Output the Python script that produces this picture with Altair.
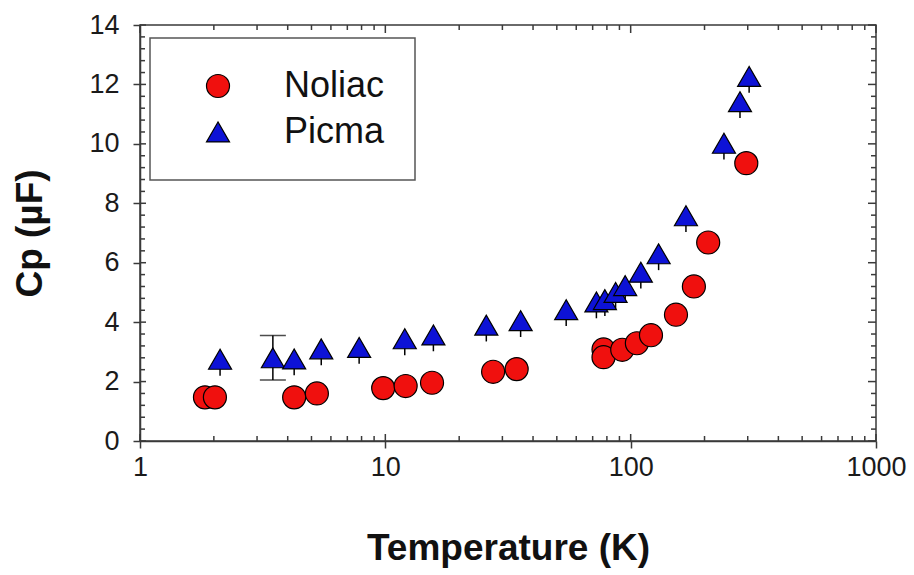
import altair as alt
import pandas as pd

# ---- data ----
series = ["Noliac", "Picma"]
series_colors = ["#f0100e", "#0d12d6"]
series_shapes = ["circle", "triangle-up"]

noliac_T = [1.84, 2.02, 4.25, 5.26, 9.8, 12.1, 15.5, 27.5, 34.3, 77.5, 77.5, 92.4, 106, 121, 153, 181, 207, 296]
noliac_cp = [1.47, 1.47, 1.47, 1.6, 1.78, 1.85, 1.96, 2.33, 2.42, 3.08, 2.82, 3.07, 3.29, 3.56, 4.25, 5.2, 6.68, 9.35]

picma_T = [2.12, 3.48, 4.25, 5.48, 7.82, 12.0, 15.7, 25.8, 35.6, 54.6, 72.5, 78.5, 86.8, 95, 110, 130, 168, 240, 279, 304]
picma_cp = [2.75, 2.8, 2.76, 3.1, 3.15, 3.44, 3.57, 3.9, 4.05, 4.42, 4.68, 4.76, 5.0, 5.23, 5.68, 6.3, 7.58, 10.02, 11.42, 12.27]
# error bar extents below / above each Picma point
picma_err_lo = [0.55, 0.75, 0.55, 0.55, 0.55, 0.55, 0.55, 0.55, 0.55, 0.55, 0.55, 0.55, 0.55, 0.55, 0.55, 0.55, 0.55, 0.55, 0.55, 0.55]
picma_err_hi = [0.3, 0.75, 0.3, 0.3, 0.3, 0.3, 0.3, 0.3, 0.3, 0.3, 0.3, 0.3, 0.3, 0.3, 0.3, 0.3, 0.3, 0.3, 0.3, 0.3]

x_major = [1, 10, 100, 1000]
x_minor = [2, 3, 4, 5, 6, 7, 8, 9, 20, 30, 40, 50, 60, 70, 80, 90, 200, 300, 400, 500, 600, 700, 800, 900]
y_major = [0, 2, 4, 6, 8, 10, 12, 14]
y_minor = [0.4, 0.8, 1.2, 1.6, 2.4, 2.8, 3.2, 3.6, 4.4, 4.8, 5.2, 5.6, 6.4, 6.8, 7.2, 7.6,
           8.4, 8.8, 9.2, 9.6, 10.4, 10.8, 11.2, 11.6, 12.4, 12.8, 13.2, 13.6]

# ---- tables ----
pts = pd.DataFrame({
    "T": noliac_T + picma_T,
    "Cp": noliac_cp + picma_cp,
    "Sample": ["Noliac"] * len(noliac_T) + ["Picma"] * len(picma_T),
})
err = pd.DataFrame({
    "T": picma_T,
    "lo": [c - e for c, e in zip(picma_cp, picma_err_lo)],
    "hi": [c + e for c, e in zip(picma_cp, picma_err_hi)],
})
big = [(t, c, lo, hi) for t, c, lo, hi in zip(picma_T, picma_cp, picma_err_lo, picma_err_hi) if hi > 0.6]
caps = pd.DataFrame({
    "T": [b[0] for b in big] * 2,
    "Cp": [b[1] - b[2] for b in big] + [b[1] + b[3] for b in big],
})
xmaj = pd.DataFrame({"T": x_major})
xmin = pd.DataFrame({"T": x_minor})
ymaj = pd.DataFrame({"Cp": y_major})
ymin = pd.DataFrame({"Cp": y_minor})

W, H = 736, 416
AX = "#3a3a3a"
FONT = "Liberation Sans"

xscale = alt.Scale(type="log", domain=[1, 1000], nice=False)
yscale = alt.Scale(domain=[0, 14], nice=False, zero=False)

xaxis = alt.Axis(
    values=x_major, format="d", grid=False, labelFlush=False, labelOverlap=False,
    labelFontSize=27, labelFont=FONT, labelColor="#1a1a1a", labelPadding=6,
    tickSize=7, tickWidth=1.5, tickColor=AX, domainColor=AX, domainWidth=1.5,
    title="Temperature (K)", titleFont=FONT, titleFontSize=37, titleFontWeight="bold",
    titleColor="#111111", titleY=118, titleBaseline="alphabetic",
)
yaxis = alt.Axis(
    values=y_major, grid=False, labelFontSize=27, labelFont=FONT, labelColor="#1a1a1a",
    labelPadding=14, tickSize=7, tickWidth=1.5, tickColor=AX, domainColor=AX, domainWidth=1.5,
    title="Cp (µF)", titleFont=FONT, titleFontSize=37, titleFontWeight="bold",
    titleColor="#111111", titleX=-110, titleY=H / 2, titleAngle=270,
    titleAlign="center", titleBaseline="middle",
)

X = alt.X("T:Q", scale=xscale, axis=xaxis)
Y = alt.Y("Cp:Q", scale=yscale, axis=yaxis)

legend = alt.Legend(
    title=None, orient="none", legendX=10, legendY=13, padding=30,
    strokeColor="#555555", fillColor="white",
    labelFont=FONT, labelFontSize=36, labelColor="#111111", labelBaseline="middle",
    symbolSize=530, symbolStrokeColor="black", symbolStrokeWidth=1.2,
    symbolOffset=20, labelOffset=48, rowPadding=10,
)

errbars = alt.Chart(err).mark_rule(color="black", strokeWidth=1.5).encode(
    x=X, y=alt.Y("lo:Q", scale=yscale, axis=yaxis), y2="hi:Q"
)
capmarks = alt.Chart(caps).mark_tick(orient="horizontal", size=26, thickness=1.5, color="black").encode(
    x=X, y=Y
)
points = alt.Chart(pts).mark_point(
    filled=True, size=530, stroke="black", strokeWidth=1.2, opacity=1
).encode(
    x=X, y=Y,
    color=alt.Color("Sample:N", scale=alt.Scale(domain=series, range=series_colors), legend=legend),
    shape=alt.Shape("Sample:N", scale=alt.Scale(domain=series, range=series_shapes), legend=legend),
)

def rule(df, **enc):
    return alt.Chart(df).mark_rule(color=AX, strokeWidth=1.5).encode(**enc)

ticks = [
    # bottom, inward
    rule(xmaj, x=X, y=alt.value(H), y2=alt.value(H - 7)),
    rule(xmin, x=X, y=alt.value(H), y2=alt.value(H - 5)),
    # top, inward
    rule(xmaj, x=X, y=alt.value(0), y2=alt.value(8)),
    rule(xmin, x=X, y=alt.value(0), y2=alt.value(5)),
    # left, inward
    rule(ymaj, y=Y, x=alt.value(0), x2=alt.value(6)),
    rule(ymin, y=Y, x=alt.value(0), x2=alt.value(5)),
    # right, inward
    rule(ymaj, y=Y, x=alt.value(W), x2=alt.value(W - 8)),
    rule(ymin, y=Y, x=alt.value(W), x2=alt.value(W - 5)),
]

chart = alt.layer(*ticks, errbars, capmarks, points).properties(
    width=W, height=H,
    padding={"left": 140, "top": 25, "right": 38, "bottom": 134},
    autosize=alt.AutoSizeParams(type="none"),
    background="white",
).configure_view(
    stroke=AX, strokeWidth=1.5
).configure_legend(
    strokeWidth=1.5
)

chart.save("out.html", embed_options={"renderer": "svg", "actions": False})
